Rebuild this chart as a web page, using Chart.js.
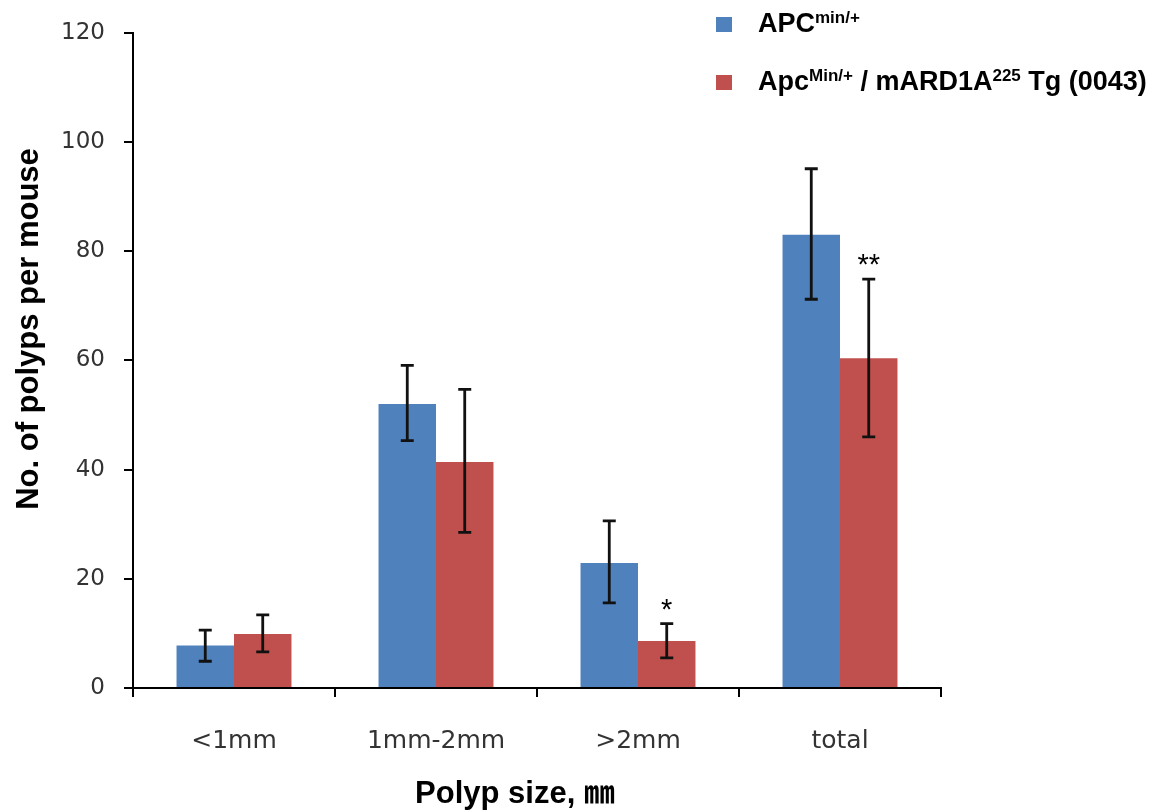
<!DOCTYPE html>
<html><head><meta charset="utf-8">
<script src="https://cdn.jsdelivr.net/npm/chart.js@4/dist/chart.umd.min.js"></script>
<style>html,body{margin:0;padding:0;background:#fff;}#wrap{width:1164px;height:812px;position:relative;}</style>
</head><body><div id="wrap"><canvas id="c" width="1164" height="812"></canvas></div>
<script>
// ---- data ----
const categories = ['<1mm', '1mm-2mm', '>2mm', 'total'];
const yTicks = [0, 20, 40, 60, 80, 100, 120];

const apcMeans = [7.8, 52.0, 22.9, 83.0];
const apcUpper = [10.6, 59.1, 30.6, 95.1];
const apcLower = [4.9, 45.3, 15.6, 71.2];

const tgMeans = [9.9, 41.4, 8.6, 60.4];
const tgUpper = [13.4, 54.7, 11.8, 74.9];
const tgLower = [6.6, 28.5, 5.5, 46.0];

const tgSignificance = ['', '', '*', '**'];

const legend1 = [['APC', false], ['min/+', true]];
const legend2 = [['Apc', false], ['Min/+', true], [' / mARD1A', false], ['225', true], [' Tg (0043)', false]];
const yTitle = 'No. of polyps per mouse';
const xTitle = 'Polyp size, \u339C';

const BLUE = '#4F81BD';
const RED = '#C0504D';

const errUpper = [apcUpper, tgUpper];
const errLower = [apcLower, tgLower];
const significance = [null, tgSignificance];

const extras = {
  id: 'extras',
  afterDatasetsDraw(chart) {
    const ctx = chart.ctx;
    const ys = chart.scales.y;
    ctx.save();
    ctx.strokeStyle = '#111';
    ctx.lineWidth = 2.8;
    chart.data.datasets.forEach((ds, i) => {
      const meta = chart.getDatasetMeta(i);
      meta.data.forEach((bar, j) => {
        const x = bar.x;
        const yh = ys.getPixelForValue(errUpper[i][j]);
        const yl = ys.getPixelForValue(errLower[i][j]);
        ctx.beginPath();
        ctx.moveTo(x, yh); ctx.lineTo(x, yl);
        ctx.moveTo(x - 6.5, yh); ctx.lineTo(x + 6.5, yh);
        ctx.moveTo(x - 6.5, yl); ctx.lineTo(x + 6.5, yl);
        ctx.stroke();
        const sig = significance[i] ? significance[i][j] : '';
        if (sig) {
          ctx.fillStyle = '#000';
          ctx.font = "29px 'Liberation Sans', Arial, sans-serif";
          ctx.textAlign = 'center';
          ctx.textBaseline = 'alphabetic';
          ctx.fillText(sig, x, yh - 5);
        }
      });
    });
    ctx.restore();
  },
  afterDraw(chart) {
    const ctx = chart.ctx;
    ctx.save();
    ctx.fillStyle = '#000';
    ctx.font = "bold 31px 'Liberation Sans', Arial, 'Noto Sans CJK KR', sans-serif";
    ctx.textAlign = 'center';
    ctx.textBaseline = 'alphabetic';
    ctx.fillText(xTitle, 515, 803);
    ctx.save();
    ctx.translate(38, 329);
    ctx.rotate(-Math.PI / 2);
    ctx.fillText(yTitle, 0, 0);
    ctx.restore();
    const drawEntry = (parts, color, sy, baseY) => {
      ctx.fillStyle = color;
      ctx.fillRect(716, sy, 16, 15);
      let x = 758;
      ctx.fillStyle = '#000';
      ctx.textAlign = 'left';
      parts.forEach(([t, sup]) => {
        ctx.font = sup ? "bold 17px 'Liberation Sans', Arial, sans-serif" : "bold 27px 'Liberation Sans', Arial, sans-serif";
        const y = sup ? baseY - 9 : baseY;
        ctx.fillText(t, x, y);
        x += ctx.measureText(t).width;
      });
    };
    drawEntry(legend1, BLUE, 17, 32);
    drawEntry(legend2, RED, 75, 90);
    ctx.restore();
  }
};

new Chart(document.getElementById('c'), {
  type: 'bar',
  data: {
    labels: categories,
    datasets: [
      { label: 'APCmin/+', data: apcMeans, backgroundColor: BLUE, borderWidth: 0, categoryPercentage: 0.569, barPercentage: 1.0 },
      { label: 'ApcMin/+ / mARD1A225 Tg (0043)', data: tgMeans, backgroundColor: RED, borderWidth: 0, categoryPercentage: 0.569, barPercentage: 1.0 }
    ]
  },
  options: {
    responsive: false,
    animation: false,
    devicePixelRatio: 1,
    layout: { padding: { left: 0, right: 223, top: 30, bottom: 0 } },
    plugins: { legend: { display: false }, tooltip: { enabled: false }, title: { display: false } },
    scales: {
      x: {
        grid: { display: true, drawOnChartArea: false, drawTicks: true, tickLength: 9, color: '#000', lineWidth: 2 },
        border: { display: true, color: '#000', width: 2 },
        ticks: { font: { family: "'DejaVu Sans', Verdana, sans-serif", size: 25 }, color: '#333', padding: 29, maxRotation: 0 },
        afterFit(s) { s.height = 124; }
      },
      y: {
        min: 0, max: 120,
        afterBuildTicks(s) { s.ticks = yTicks.map(v => ({ value: v })); },
        grid: { display: true, drawOnChartArea: false, drawTicks: true, tickLength: 9, color: '#000', lineWidth: 2 },
        border: { display: true, color: '#000', width: 2 },
        ticks: { font: { family: "'DejaVu Sans', Verdana, sans-serif", size: 23 }, color: '#333', padding: 19 },
        afterFit(s) { s.width = 133; }
      }
    }
  },
  plugins: [extras]
});
</script>
</body></html>
